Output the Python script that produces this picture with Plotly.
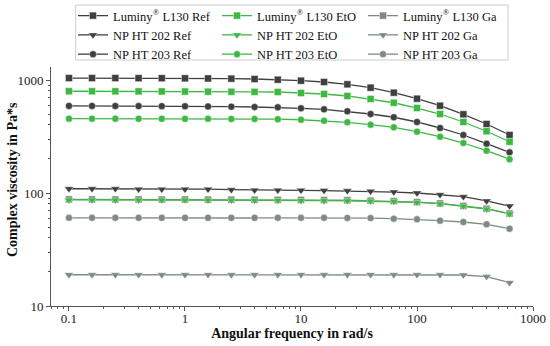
import plotly.graph_objects as go

freq = [0.1, 0.158, 0.251, 0.398, 0.631, 1.0, 1.58, 2.51, 3.98, 6.31,
        10.0, 15.8, 25.1, 39.8, 63.1, 100.0, 158.0, 251.0, 398.0, 628.0]

l130_ref = [1040, 1040, 1040, 1038, 1037, 1035, 1032, 1028, 1020, 1006,
            986, 960, 916, 855, 772, 683, 592, 497, 408, 326]
l130_eto = [795, 795, 794, 793, 792, 790, 788, 786, 785, 783,
            767, 752, 722, 679, 629, 565, 500, 425, 352, 284]
l130_ga = [87.8, 87.8, 87.7, 87.7, 87.6, 87.5, 87.4, 87.3, 87.2, 87.0,
           86.8, 86.6, 86.3, 85.6, 84.8, 83.1, 80.8, 77.0, 72.6, 65.8]
ht202_ref = [109, 109, 109, 108, 108, 108, 108, 107, 106, 106,
             105.5, 105, 104.5, 103.5, 102, 100, 96.6, 92.7, 85, 76.7]
ht202_eto = [86.8, 86.8, 86.7, 86.7, 86.6, 86.5, 86.4, 86.3, 86.2, 86.0,
             85.8, 85.6, 85.3, 84.8, 84.4, 82.7, 80.4, 76.7, 72.2, 65.3]
ht202_ga = [18.9, 18.9, 18.9, 18.9, 18.9, 18.9, 18.9, 18.9, 18.9, 18.9,
            18.9, 18.9, 18.9, 18.9, 18.9, 18.9, 18.9, 18.8, 18.2, 16.1]
ht203_ref = [590, 590, 589, 588, 587, 586, 584, 581, 577, 573,
             562, 550, 528, 500, 468, 425, 376, 326, 273, 229]
ht203_eto = [455, 455, 455, 454, 454, 453, 453, 452, 452, 450,
             445, 436, 422, 402, 381, 349, 315, 277, 237, 199]
ht203_ga = [60.3, 60.3, 60.3, 60.3, 60.3, 60.3, 60.3, 60.3, 60.3, 60.3,
            60.3, 60.3, 60.2, 60.0, 59.3, 58.5, 56.9, 55.4, 52.8, 48.3]

x_tickvals = [0.1, 1, 10, 100, 1000]
x_ticktext = ["0.1", "1", "10", "100", "1000"]
y_tickvals = [10, 100, 1000]
y_ticktext = ["10", "100", "1000"]

x_minor = [m * d for d in [0.01, 0.1, 1, 10, 100] for m in range(2, 10)]
y_minor = [m * d for d in [10, 100, 1000] for m in range(2, 10)]

C_REF = "#3f3f3f"
C_ETO = "#3db843"
C_GA = "#7c8c7e"

series = [
    ("Luminy<sup>®</sup> L130 Ref", l130_ref, C_REF, "square", "legend"),
    ("NP HT 202 Ref", ht202_ref, C_REF, "triangle-down", "legend"),
    ("NP HT 203 Ref", ht203_ref, C_REF, "circle", "legend"),
    ("Luminy<sup>®</sup> L130 Ga", l130_ga, C_GA, "square", "legend3"),
    ("Luminy<sup>®</sup> L130 EtO", l130_eto, C_ETO, "square", "legend2"),
    ("NP HT 202 EtO", ht202_eto, C_ETO, "triangle-down", "legend2"),
    ("NP HT 203 EtO", ht203_eto, C_ETO, "circle", "legend2"),
    ("NP HT 202 Ga", ht202_ga, C_GA, "triangle-down", "legend3"),
    ("NP HT 203 Ga", ht203_ga, C_GA, "circle", "legend3"),
]
legend_rank = {
    "Luminy<sup>®</sup> L130 Ref": 1, "NP HT 202 Ref": 2, "NP HT 203 Ref": 3,
    "Luminy<sup>®</sup> L130 EtO": 1, "NP HT 202 EtO": 2, "NP HT 203 EtO": 3,
    "Luminy<sup>®</sup> L130 Ga": 1, "NP HT 202 Ga": 2, "NP HT 203 Ga": 3,
}

fig = go.Figure()
for name, vals, col, sym, leg in series:
    size = 8 if sym == "triangle-down" else 7
    fig.add_trace(go.Scatter(
        x=freq, y=vals, name=name, mode="lines+markers",
        line=dict(color=col, width=1.3),
        marker=dict(symbol=sym, size=size, color=col,
                    line=dict(width=0.6, color="rgba(255,255,255,0.7)")),
        legend=leg, legendrank=legend_rank[name],
    ))

FONT = "Liberation Serif"
leg_common = dict(
    orientation="v", xref="container", yref="container",
    yanchor="top", xanchor="left",
    bgcolor="rgba(0,0,0,0)", borderwidth=0,
    font=dict(family=FONT, size=12.5, color="#111"),
    tracegroupgap=0, itemwidth=30,
)

X_RANGE = [-1.155, 3.0]
Y_RANGE = [1.0, 3.115]

fig.update_layout(
    width=550, height=346,
    margin=dict(l=51, r=17, t=67, b=40, autoexpand=False),
    paper_bgcolor="white", plot_bgcolor="white",
    font=dict(family=FONT, size=13, color="#111"),
    legend=dict(x=73 / 550, y=1 - 1 / 346, **leg_common),
    legend2=dict(x=217 / 550, y=1 - 1 / 346, **leg_common),
    legend3=dict(x=363 / 550, y=1 - 1 / 346, **leg_common),
    xaxis=dict(
        type="log", range=X_RANGE,
        tickmode="array", tickvals=x_tickvals, ticktext=x_ticktext,
        ticks="outside", ticklen=4, tickwidth=1, tickcolor="#555",
        showline=True, linecolor="#555", linewidth=1,
        showgrid=False, zeroline=False,
        ticklabelstandoff=-4,
        minor=dict(tickmode="array", tickvals=x_minor, ticks="outside",
                   ticklen=2, tickcolor="#555", showgrid=False),
        tickfont=dict(family=FONT, size=13, color="#222"),
        title=dict(text="<b>Angular frequency in rad/s</b>",
                   font=dict(family=FONT, size=14, color="#111"), standoff=2),
    ),
    yaxis=dict(
        type="log", range=Y_RANGE,
        tickmode="array", tickvals=y_tickvals, ticktext=y_ticktext,
        ticks="outside", ticklen=4, tickwidth=1, tickcolor="#555",
        showline=True, linecolor="#555", linewidth=1,
        showgrid=False, zeroline=False,
        minor=dict(tickmode="array", tickvals=y_minor, ticks="outside",
                   ticklen=2, tickcolor="#555", showgrid=False),
        tickfont=dict(family=FONT, size=13, color="#222"),
    ),
    annotations=[dict(
        text="<b>Complex viscosity in Pa*s</b>", textangle=-90,
        xref="paper", yref="paper", x=(12 - 51) / 482, y=(306 - 180) / 239,
        xanchor="center", yanchor="middle", showarrow=False,
        font=dict(family=FONT, size=14, color="#111"),
    )],
    shapes=[dict(type="rect", xref="paper", yref="paper",
                 x0=(75.7 - 51) / 482, x1=(508 - 51) / 482,
                 y0=1 + 7 / 239, y1=1 + 62 / 239,
                 line=dict(color="#cccccc", width=1), fillcolor="rgba(0,0,0,0)")],
)

fig.write_html("out.html", config={"displayModeBar": False},
               post_script="document.body.style.margin='0';")
